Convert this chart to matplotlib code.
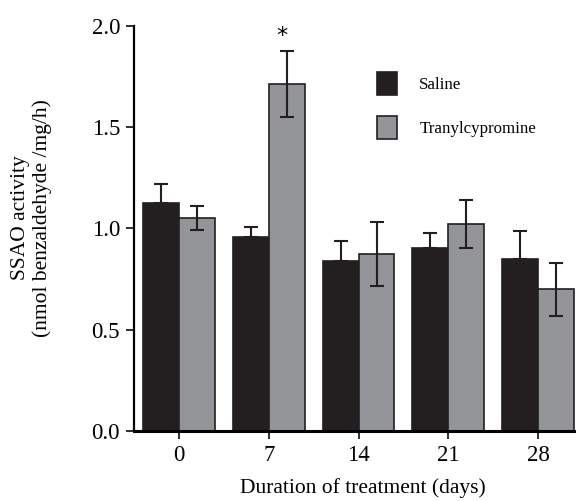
import matplotlib.pyplot as plt
import numpy as np

plt.rcParams['font.family'] = ['Liberation Serif', 'DejaVu Serif']

days = ['0', '7', '14', '21', '28']
saline = [1.125, 0.96, 0.84, 0.905, 0.85]
saline_err = [0.095, 0.045, 0.10, 0.075, 0.14]
tranyl = [1.052, 1.714, 0.875, 1.022, 0.70]
tranyl_err = [0.06, 0.165, 0.157, 0.12, 0.13]

x = np.arange(len(days))
w = 0.4

fig = plt.figure(figsize=(5.76, 5.01), dpi=100)
ax = fig.add_axes([134/576, 70/501, 441/576, 405/501])

ax.bar(x - w/2, saline, w, color='#231f20', edgecolor='#231f20', linewidth=1.2,
       label='Saline', zorder=2)
ax.errorbar(x - w/2, saline, yerr=[[0]*5, saline_err], fmt='none', ecolor='#231f20',
            elinewidth=1.5, capsize=5, capthick=1.5, zorder=3)
ax.bar(x + w/2, tranyl, w, color='#939598', edgecolor='#231f20', linewidth=1.2,
       label='Tranylcypromine', zorder=2)
ax.errorbar(x + w/2, tranyl, yerr=tranyl_err, fmt='none', ecolor='#231f20',
            elinewidth=1.5, capsize=5, capthick=1.5, zorder=3)

ax.text(1 + w/2 - 0.05, tranyl[1] + tranyl_err[1] + 0.02, '*', ha='center',
        va='bottom', fontsize=16, family='DejaVu Sans')

ax.set_xlim(-0.5, 4.41)
ax.set_ylim(0, 2.0)
ax.set_yticks([0, 0.5, 1.0, 1.5, 2.0])
ax.set_yticklabels(['0.0', '0.5', '1.0', '1.5', '2.0'])
ax.set_xticks(x)
ax.set_xticklabels(days)
ax.tick_params(axis='both', direction='out', length=6, width=1.3, labelsize=16.5,
               color='#231f20', pad=4)

for s in ['top', 'right']:
    ax.spines[s].set_visible(False)
ax.spines['left'].set_linewidth(1.6)
ax.spines['bottom'].set_linewidth(2.2)

ax.set_xlabel('Duration of treatment (days)', fontsize=15.5, va='center')
ax.xaxis.set_label_coords(0.52, -0.141)
ax.set_ylabel('SSAO activity\n(nmol benzaldehyde /mg/h)', fontsize=15.5,
              linespacing=1.15, va='center')
ax.yaxis.set_label_coords(-0.233, 0.526)

ax.legend(loc='upper left', bbox_to_anchor=(377/576, 1 - 72/501),
          bbox_transform=fig.transFigure, frameon=False, fontsize=12.2,
          borderpad=0, borderaxespad=0,
          handlelength=1.2, handleheight=1.7, handletextpad=1.3, labelspacing=1.25)

plt.savefig('out.png')
